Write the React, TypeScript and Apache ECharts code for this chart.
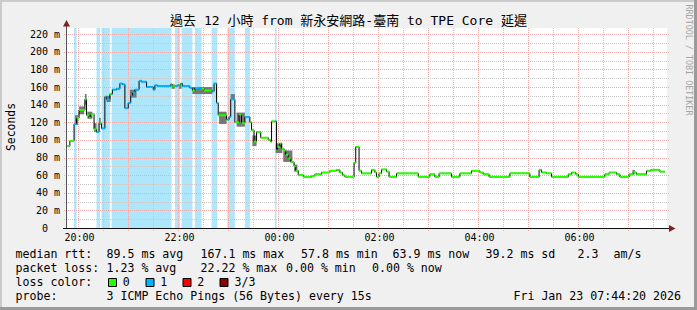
import React, { useEffect, useRef } from "react";
import * as echarts from "echarts";

const MONO = "'DejaVu Sans Mono', monospace";
const TITLE_FONT = "'DejaVu Sans Mono', 'Noto Sans CJK TC', monospace";

const chartTitle = "過去 12 小時 from 新永安網路-臺南 to TPE Core 延遲";
const yAxisName = "Seconds";
const watermark = "RRDTOOL / TOBI OETIKER";
const startTime = "19:44:20";
const endTime = "07:44:20";
const dataEnd = "07:43";
const yMax = 227;

const xLabelTimes = ["20:00", "22:00", "00:00", "02:00", "04:00", "06:00"];
const yTicks = [0, 20, 40, 60, 80, 100, 120, 140, 160, 180, 200, 220];

const medianTimes = [
  "19:45", "19:49", "19:54", "19:57", "20:00", "20:07", "20:09", "20:12", "20:14", "20:18",
  "20:21", "20:24", "20:27", "20:31", "20:33", "20:37", "20:40", "20:45", "20:49", "20:52",
  "20:55", "20:59", "21:02", "21:04", "21:07", "21:12", "21:15", "21:21", "21:29", "21:31",
  "21:34", "21:50", "21:52", "21:58", "22:02", "22:04", "22:13", "22:16", "22:19", "22:25",
  "22:30", "22:40", "22:42", "22:45", "22:47", "22:57", "23:00", "23:02", "23:07", "23:12",
  "23:15", "23:19", "23:25", "23:27", "23:30", "23:33", "23:38", "23:47", "23:50", "23:51",
  "23:57", "23:58", "00:01", "00:03", "00:06", "00:08", "00:11", "00:14", "00:18", "00:20",
  "00:23", "00:29", "00:39", "00:43", "00:51", "01:01", "01:09", "01:13", "01:16", "01:19",
  "01:30", "01:32", "01:36", "01:39", "01:51", "01:55", "01:57", "02:00", "02:03", "02:09",
  "02:12", "02:21", "02:47", "03:01", "03:07", "03:12", "03:27", "03:37", "03:51", "04:01",
  "04:05", "04:12", "04:37", "05:01", "05:12", "05:15", "05:21", "05:27", "05:47", "05:51",
  "05:56", "05:59", "06:31", "06:36", "06:45", "06:49", "07:00", "07:05", "07:09", "07:21",
  "07:26", "07:37",
];
const medianValues = [
  93, 99, 118, 125, 134, 146, 128, 125, 129, 112,
  109, 119, 113, 149, 146, 152, 157, 158, 164, 163,
  136, 142, 150, 154, 157, 167, 166, 160, 157, 162,
  161, 163, 161, 162, 164, 161, 159, 156, 159, 158,
  156, 155, 164, 142, 128, 123, 126, 146, 120, 129,
  119, 126, 120, 111, 98, 109, 102.5, 100, 98, 121,
  88.5, 92, 96, 90, 88, 83, 79, 75, 70, 65,
  60, 58, 59, 61, 63, 65, 66, 63, 60, 58,
  74, 92, 65, 62, 66, 63, 58, 62, 66.5, 64,
  58, 62, 58, 61, 58, 62, 58, 62, 65, 63,
  61, 58, 62, 58, 66, 63, 62, 58, 61, 63,
  61, 58, 61, 63, 61, 58, 61, 63, 61, 65,
  66, 64,
];

const lossStart = ["19:54", "20:21", "20:27", "20:39", "21:55", "22:03", "22:19", "22:39", "22:58", "23:19", "23:55"];
const lossEnd = ["19:57", "20:25", "20:37", "21:51", "22:01", "22:16", "22:27", "22:46", "23:07", "23:25", "23:57"];

const smokeStart = ["19:55", "20:00", "20:07", "20:10", "20:18", "20:24", "20:33", "21:01", "21:51", "22:00", "22:16", "22:48", "23:02", "23:09", "23:28", "23:56", "00:05", "00:18", "07:04"];
const smokeEnd = ["19:59", "20:06", "20:09", "20:16", "20:21", "20:26", "20:38", "21:09", "21:55", "22:03", "22:40", "22:57", "23:07", "23:19", "23:33", "00:04", "00:16", "00:22", "07:07"];
const smokeLow = [117, 129, 140, 124, 109, 117, 143, 148, 158, 158, 152, 118, 146, 115, 93, 85, 75, 64, 61];
const smokeHigh = [128, 138, 152, 132, 119, 125, 150, 157, 163, 162, 160, 132, 152, 131, 105, 96, 88, 72, 66];

const lossLabels = ["0", "1", "2", "3/3"];
const lossColors = ["#26ff00", "#00b4ff", "#ff0000", "#8b0000"];
const bandColor = "#aee6fb";
const smokeColor = "#777777";

const rttStats = ["median rtt:", "89.5 ms avg", "167.1 ms max", "57.8 ms min", "63.9 ms now", "39.2 ms sd", "2.3", "am/s"];
const lossStats = ["packet loss:", "1.23 % avg", "22.22 % max", "0.00 % min", "0.00 % now"];
const lossColorTitle = "loss color:";
const probeStats = ["probe:", "3 ICMP Echo Pings (56 Bytes) every 15s"];
const stamp = "Fri Jan 23 07:44:20 2026";

function toMin(s: string): number {
  const p = s.split(":").map(Number);
  let h = p[0];
  if (h < 12) h += 24;
  return (h - 20) * 60 + p[1] + (p[2] || 0) / 60;
}

function buildOption(): any {
  const X_MIN = toMin(startTime);
  const X_MAX = toMin(endTime);
  const tEnd = toMin(dataEnd);
  const mt = medianTimes.map(toMin);
  const bands = lossStart.map((s, i) => [toMin(s), toMin(lossEnd[i])]);
  const inBand = (t: number) => bands.some((b) => t >= b[0] && t < b[1]);

  const pieces: number[][] = [];
  mt.forEach((t0, i) => {
    const t1 = i + 1 < mt.length ? mt[i + 1] : tEnd;
    const cuts = [t0, ...bands.flat().filter((c) => c > t0 && c < t1), t1].sort((a, b) => a - b);
    for (let k = 0; k < cuts.length - 1; k++) {
      const a = cuts[k];
      const b = cuts[k + 1];
      pieces.push([a, b, medianValues[i], inBand((a + b) / 2) ? 1 : 0]);
    }
  });

  const lineData = mt.map((t, i) => [t, medianValues[i]]);
  lineData.push([tEnd, medianValues[medianValues.length - 1]]);

  const smokeData = smokeStart.map((s, i) => [toMin(s), toMin(smokeEnd[i]), smokeLow[i], smokeHigh[i]]);

  const vGrid: number[][] = [];
  for (let t = 0; t < X_MAX; t += 30) vGrid.push([t, t % 60 === 0 ? 1 : 0]);
  const hGrid: number[][] = [];
  for (let v = 10; v <= 220; v += 10) hGrid.push([X_MIN, v, v % 20 === 0 ? 1 : 0]);

  const RED = "#f0aaaa";
  const GRAY = "#c8c8c8";

  const legendText = (text: string, x: number, y: number, align = "left") => ({
    type: "text",
    x,
    y,
    silent: true,
    style: { text, fill: "#000", font: `11.6px ${MONO}`, align, verticalAlign: "middle", textAlign: align, textVerticalAlign: "middle" },
  });

  const row1X = [15.5, 106.5, 200.5, 301, 392.5, 485.5, 577.5, 613.5];
  const row2X = [15.5, 106.5, 200.5, 286, 372];
  const boxX = [108, 145.5, 182.5, 219.5];
  const boxLabelX = [122.8, 160.2, 197.2, 234.5];
  const rowY = [254, 268, 282, 296];

  const graphics: any[] = [
    { type: "rect", shape: { x: 0, y: 0, width: 697, height: 2 }, style: { fill: "#cbcbcb" }, silent: true },
    { type: "rect", shape: { x: 0, y: 0, width: 2, height: 310 }, style: { fill: "#cbcbcb" }, silent: true },
    { type: "rect", shape: { x: 694, y: 0, width: 3, height: 310 }, style: { fill: "#9a9a9a" }, silent: true },
    { type: "rect", shape: { x: 0, y: 307, width: 697, height: 3 }, style: { fill: "#9a9a9a" }, silent: true },
    { type: "rect", z: -10, shape: { x: 66, y: 28, width: 601, height: 200 }, style: { fill: "#ffffff" }, silent: true },
    {
      type: "text", x: 348.5, y: 20.5, silent: true,
      style: { text: chartTitle, fill: "#000", font: `13px ${TITLE_FONT}`, align: "center", verticalAlign: "middle", textAlign: "center", textVerticalAlign: "middle" },
    },
    {
      type: "text", x: 11, y: 127, rotation: Math.PI / 2, silent: true,
      style: { text: yAxisName, fill: "#000", font: `11.4px ${MONO}`, align: "center", verticalAlign: "middle", textAlign: "center", textVerticalAlign: "middle" },
    },
    {
      type: "text", x: 688.5, y: 60, rotation: -Math.PI / 2, silent: true,
      style: { text: watermark, fill: "#a4a4a4", font: `8.4px ${MONO}`, align: "center", verticalAlign: "middle", textAlign: "center", textVerticalAlign: "middle" },
    },
    { type: "line", z: 50, shape: { x1: 66.5, y1: 228, x2: 66.5, y2: 25 }, style: { stroke: "#555", lineWidth: 1 }, silent: true },
    { type: "line", z: 50, shape: { x1: 63, y1: 228.5, x2: 670, y2: 228.5 }, style: { stroke: "#111", lineWidth: 1 }, silent: true },
    { type: "polygon", z: 51, shape: { points: [[63, 26.5], [70, 26.5], [66.5, 20]] }, style: { fill: "#7f1f1f" }, silent: true },
    { type: "polygon", z: 51, shape: { points: [[669, 225], [669, 232], [675.5, 228.5]] }, style: { fill: "#7f1f1f" }, silent: true },
  ];
  rttStats.forEach((t, i) => graphics.push(legendText(t, row1X[i], rowY[0])));
  lossStats.forEach((t, i) => graphics.push(legendText(t, row2X[i], rowY[1])));
  graphics.push(legendText(lossColorTitle, 15.5, rowY[2]));
  lossLabels.forEach((t, i) => {
    graphics.push({ type: "rect", shape: { x: boxX[i] + 0.5, y: 278.5, width: 8, height: 8 }, style: { fill: lossColors[i], stroke: "#000", lineWidth: 1 }, silent: true });
    graphics.push(legendText(t, boxLabelX[i], rowY[2]));
  });
  graphics.push(legendText(probeStats[0], 15.5, rowY[3]));
  graphics.push(legendText(probeStats[1], 106.5, rowY[3]));
  graphics.push(legendText(stamp, 681, rowY[3], "right"));

  return {
    animation: false,
    backgroundColor: "#f0f0f0",
    grid: { left: 66, top: 28, width: 600, height: 200 },
    xAxis: { type: "value", min: X_MIN, max: X_MAX, show: false },
    yAxis: { type: "value", min: 0, max: yMax, show: false },
    graphic: graphics,
    series: [
      {
        type: "custom", name: "loss", z: 1, silent: true, clip: true,
        data: bands,
        encode: { x: [0, 1], y: [] },
        renderItem: (_p: any, api: any) => {
          const s = api.coord([api.value(0), yMax]);
          const e = api.coord([api.value(1), 0]);
          return { type: "rect", shape: { x: s[0], y: s[1], width: e[0] - s[0], height: e[1] - s[1] }, style: { fill: bandColor } };
        },
      },
      {
        type: "custom", name: "vgrid", z: 2, silent: true, clip: false,
        data: vGrid,
        encode: { x: 0, y: [] },
        renderItem: (_p: any, api: any) => {
          const b = api.coord([api.value(0), 0]);
          const t = api.coord([api.value(0), yMax]);
          const x = Math.round(b[0]) - 0.5;
          return {
            type: "line",
            shape: { x1: x, y1: b[1] + 3, x2: x, y2: t[1] },
            style: { stroke: api.value(1) ? RED : GRAY, lineWidth: 1, lineDash: [1, 1] },
          };
        },
      },
      {
        type: "custom", name: "hgrid", z: 2, silent: true, clip: false,
        data: hGrid,
        encode: { x: 0, y: 1 },
        renderItem: (_p: any, api: any) => {
          const a = api.coord([X_MIN, api.value(1)]);
          const b = api.coord([X_MAX, api.value(1)]);
          const y = Math.round(a[1]) + 0.5;
          return {
            type: "line",
            shape: { x1: a[0] - 2, y1: y, x2: b[0] + 3, y2: y },
            style: { stroke: api.value(2) ? RED : GRAY, lineWidth: 1, lineDash: [1, 1] },
          };
        },
      },
      {
        type: "custom", name: "smoke", z: 3, silent: true, clip: true,
        data: smokeData,
        encode: { x: [0, 1], y: [2, 3] },
        renderItem: (_p: any, api: any) => {
          const a = api.coord([api.value(0), api.value(3)]);
          const b = api.coord([api.value(1), api.value(2)]);
          return { type: "rect", shape: { x: a[0], y: a[1], width: b[0] - a[0], height: b[1] - a[1] }, style: { fill: smokeColor } };
        },
      },
      {
        type: "line", name: "median", z: 4, silent: true,
        data: lineData, step: "end", symbol: "none",
        lineStyle: { color: "#000", width: 1 },
      },
      {
        type: "custom", name: "medianColor", z: 5, silent: true, clip: true,
        data: pieces,
        encode: { x: [0, 1], y: 2 },
        renderItem: (_p: any, api: any) => {
          const a = api.coord([api.value(0), api.value(2)]);
          const b = api.coord([api.value(1), api.value(2)]);
          return { type: "rect", shape: { x: a[0], y: a[1] - 1, width: b[0] - a[0], height: 2 }, style: { fill: lossColors[api.value(3)] } };
        },
      },
      {
        type: "custom", name: "xlabels", z: 6, silent: true, clip: false,
        data: xLabelTimes.map((s) => [toMin(s), 0]),
        encode: { x: 0, y: 1 },
        renderItem: (p: any, api: any) => {
          const c = api.coord([api.value(0), 0]);
          return {
            type: "text", x: c[0] + 0.5, y: c[1] + 9.5,
            style: { text: xLabelTimes[p.dataIndex], fill: "#000", font: `10px ${MONO}`, align: "center", verticalAlign: "middle", textAlign: "center", textVerticalAlign: "middle" },
          };
        },
      },
      {
        type: "custom", name: "ylabels", z: 6, silent: true, clip: false,
        data: yTicks.map((v) => [X_MIN, v]),
        encode: { x: 0, y: 1 },
        renderItem: (p: any, api: any) => {
          const v = yTicks[p.dataIndex];
          const c = api.coord([X_MIN, v]);
          return {
            type: "text", x: c[0] - (v === 0 ? 18 : 6), y: c[1],
            style: { text: v === 0 ? "0" : `${v} m`, fill: "#000", font: `10px ${MONO}`, align: "right", verticalAlign: "middle", textAlign: "right", textVerticalAlign: "middle" },
          };
        },
      },
    ],
  };
}

export default function App() {
  const ref = useRef<HTMLDivElement>(null);
  useEffect(() => {
    if (!ref.current) return;
    const chart = echarts.init(ref.current, undefined, { renderer: "svg" });
    chart.setOption(buildOption());
    return () => chart.dispose();
  }, []);
  return <div ref={ref} style={{ position: "fixed", left: 0, top: 0, width: 697, height: 310 }} />;
}
